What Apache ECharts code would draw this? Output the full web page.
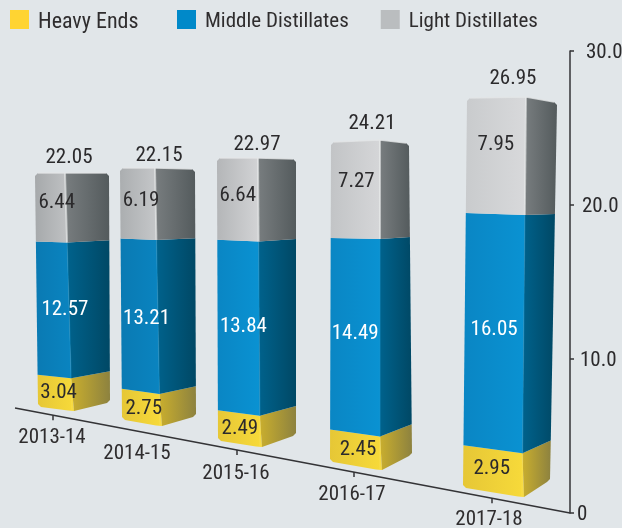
<!DOCTYPE html>
<html><head><meta charset="utf-8">
<style>html,body{margin:0;padding:0;background:#e1e6e9}#c{width:622px;height:528px}</style>
<script src="https://cdn.jsdelivr.net/npm/echarts@6/dist/echarts.min.js"></script>
</head><body><div id="c"></div>
<script>
// ---- data ----
const categories = ['2013-14','2014-15','2015-16','2016-17','2017-18'];
const heavyEnds = [3.04,2.75,2.49,2.45,2.95];
const middleDistillates = [12.57,13.21,13.84,14.49,16.05];
const lightDistillates = [6.44,6.19,6.64,7.27,7.95];
const totals = [22.05,22.15,22.97,24.21,26.95];
const axisTicks = [0,10,20,30];

// ---- perspective projection of the picture (per bar: left, edge, right vertical) ----
const FAMILY = 'Roboto, "Liberation Sans", sans-serif';
const FONT = 'condensed normal 21px ' + FAMILY;
const TEXT_DY = 2;
const AXIS_UNIT = 15.4;
const footDx = [[-19,15,53],[-49,-11,25],[-67,-25,11],[-69,-19,13],[-50,9,37]];
const footY = [[407,411,403],[420,426,417],[441,447,436],[462,470,456],[488,497,482]];
const unitPx = [[10.61,10.79,10.43],[11.38,11.65,11.2],[12.32,12.58,12.06],[13.22,13.63,12.93],[14.47,14.84,14.1]];
const leanPerUnit = [[-0.136,-0.317,-0.045],[-0.09,-0.226,-0.045],[-0.044,-0.087,0],[0.041,0,-0.124],[0.148,0.148,0.26]];
const nudgeHeavy = [[4,-2],[3,0],[1,-2],[3,-2],[-1,-4]];
const nudgeMiddle = [[12,-1],[7,1],[5,-2],[0,-4],[0,-4]];
const nudgeLight = [[6,-7],[3,-5],[0,-6],[1,-10],[0,-13]];
const nudgeTotal = [[4,-17],[4,-14],[-1,-15],[-8,-18],[-13,-20]];
const catLabelDx = [-5,-34,-49,-47,-24];
const catLabelY = [436,452,472,493,518];
const catTickDx = [-4,null,-48,-45,-21];
const lineY = x => 408 + 0.189 * (x - 15);

function hg(a, b) {
  return {type:'linear',x:0,y:0,x2:1,y2:0,colorStops:[{offset:0,color:a},{offset:1,color:b}]};
}
const grayFrontA = ['#a6a9ab','#abaeb0','#b4b6b8','#c2c4c6','#c9cbcd'];
const grayFrontB = ['#bfc1c3','#c5c7c9','#d2d3d5','#d5d6d8','#d8d9db'];
const styles = {
  heavy: {front:i=>hg('#e6c736','#f7da3a'), side:i=>hg('#c9ae2e','#8d823f'), edge:'#f9e25a', text:'#2b2a2c'},
  middle:{front:i=>hg(i<2?'#0a7ab3':'#0a86c4',i<2?'#0a84c0':'#0a92d2'), side:i=>hg('#00628c','#004865'), edge:'#1a93cc', text:'#ffffff'},
  light: {front:i=>hg(grayFrontA[i],grayFrontB[i]), side:i=>hg('#787d7f','#545b5d'), edge:'#eceeee', text:'#2b2a2c'}
};

function point(api, i, c, v) {
  const x0 = api.coord([i, 0]);
  const yv = api.coord([i, v]);
  const h = x0[1] - yv[1];
  return [x0[0] + footDx[i][c] + leanPerUnit[i][c] * v,
          footY[i][c] - h * unitPx[i][c] / AXIS_UNIT];
}
function segmentItem(kind, nudge, capTop, capBottom) {
  return function (params, api) {
    const i = api.value(0), a = api.value(1), b = api.value(2), val = api.value(3);
    const L0 = point(api,i,0,a), E0 = point(api,i,1,a), R0 = point(api,i,2,a);
    const L1 = point(api,i,0,b), E1 = point(api,i,1,b), R1 = point(api,i,2,b);
    const st = styles[kind], ch = 3;
    const front = capTop
      ? [[L0[0],L0[1]],[E0[0],E0[1]],[E1[0],E1[1]],[L1[0]+ch,L1[1]],[L1[0],L1[1]+ch]]
      : capBottom
      ? [[L0[0],L0[1]-ch],[L0[0]+ch,L0[1]],[E0[0]-4,E0[1]-0.5],[E0[0]+2,E0[1]],[E1[0],E1[1]],[L1[0],L1[1]]]
      : [L0,E0,E1,L1];
    const side = capTop
      ? [[E0[0],E0[1]],[R0[0],R0[1]],[R1[0],R1[1]+ch],[R1[0]-ch,R1[1]],[E1[0],E1[1]]]
      : capBottom
      ? [[E0[0]+2,E0[1]],[R0[0]-ch,R0[1]],[R0[0],R0[1]-ch],[R1[0],R1[1]],[E1[0],E1[1]]]
      : [E0,R0,R1,E1];
    const mx = (L0[0]+E0[0]+L1[0]+E1[0])/4, my = (L0[1]+E0[1]+L1[1]+E1[1])/4;
    const children = [
      {type:'polygon',shape:{points:front},style:{fill:st.front(i)}},
      {type:'polygon',shape:{points:side},style:{fill:st.side(i)}},
      {type:'line',shape:{x1:E0[0],y1:E0[1],x2:E1[0],y2:E1[1]},style:{stroke:st.edge,lineWidth:kind==='light'?2:1.5,opacity:kind==='light'?0.6:0.4}}
    ];
    if (capTop) {
      children.push({type:'polyline',shape:{points:[[L1[0]+ch,L1[1]],E1,[R1[0]-ch,R1[1]]]},style:{stroke:'#e4e6e7',lineWidth:1.5,fill:null,opacity:.8}});
    }
    children.push({type:'text',style:{text:val.toFixed(2),x:mx+nudge[i][0],y:my+nudge[i][1]+TEXT_DY,
      font:FONT,fill:st.text,align:'center',verticalAlign:'middle'}});
    return {type:'group',children};
  };
}
function stackData(values, starts) {
  return values.map((v,i)=>[i,starts[i],starts[i]+v,v]);
}
const zeros = categories.map(()=>0);
const blueStart = heavyEnds.slice();
const grayStart = heavyEnds.map((v,i)=>v+middleDistillates[i]);
const dims = {x:0,y:[1,2]};
const labelRich = pad => ({fontSize:21,fontStyle:'condensed',fontFamily:FAMILY,color:'#2b2a2c',padding:[4,0,0,pad]});
const legendRich = size => ({fontSize:size,color:'#2f2d2e',fontFamily:FAMILY,fontStyle:'condensed',padding:[5,0,0,4]});
const legendBase = (left, gap, size, names) => ({
  left, top:5, itemWidth:19, itemHeight:19, itemGap:gap, icon:'rect', selectedMode:false,
  data:names,
  formatter:n=>'{t|'+n+'}',
  textStyle:{fontSize:size,color:'#2f2d2e',fontFamily:FAMILY,fontStyle:'condensed',rich:{t:legendRich(size)}}
});

const option = {
  animation:false,
  backgroundColor:'#e1e6e9',
  textStyle:{fontFamily:FAMILY},
  legend:[
    legendBase(5,33,22,['Heavy Ends']),
    legendBase(172,32,21,['Middle Distillates','Light Distillates'])
  ],
  grid:{left:0,right:52,top:51,bottom:15,outerBoundsMode:'none'},
  xAxis:{type:'category',data:categories,show:false},
  yAxis:{
    type:'value',position:'right',min:0,max:30,interval:10,
    axisLine:{show:true,lineStyle:{color:'#333336',width:1.5}},
    axisTick:{show:true,length:4,lineStyle:{color:'#333336',width:1.5}},
    splitLine:{show:false},
    axisLabel:{
      margin:7,color:'#2b2a2c',fontSize:21,fontStyle:'condensed',fontFamily:FAMILY,
      formatter:v=>{
        const t = axisTicks.indexOf(v);
        return v===0 ? '{t0|0}' : '{t'+t+'|'+v.toFixed(1)+'}';
      },
      rich:{t0:labelRich(0),t1:labelRich(3),t2:labelRich(5),t3:labelRich(9)}
    }
  },
  graphic:[{type:'line',silent:true,z:5,shape:{x1:15,y1:lineY(15),x2:570,y2:lineY(570)},style:{stroke:'#333336',lineWidth:1.5}}],
  series:[
    {name:'Heavy Ends',type:'custom',encode:dims,itemStyle:{color:'#ffd432'},z:3,
     renderItem:segmentItem('heavy',nudgeHeavy,false,true),data:stackData(heavyEnds,zeros)},
    {name:'Middle Distillates',type:'custom',encode:dims,itemStyle:{color:'#0089c9'},z:3,
     renderItem:segmentItem('middle',nudgeMiddle,false,false),data:stackData(middleDistillates,blueStart)},
    {name:'Light Distillates',type:'custom',encode:dims,itemStyle:{color:'#babdbf'},z:3,
     renderItem:segmentItem('light',nudgeLight,true,false),data:stackData(lightDistillates,grayStart)},
    {name:'Total',type:'custom',encode:{x:0,y:1},z:4,
     renderItem:(p,api)=>{
       const i=api.value(0),t=api.value(1),e=point(api,i,1,t);
       return {type:'text',style:{text:t.toFixed(2),x:e[0]+nudgeTotal[i][0],y:e[1]+nudgeTotal[i][1]+TEXT_DY,font:FONT,fill:'#2b2a2c',align:'center',verticalAlign:'middle'}};
     },
     data:totals.map((t,i)=>[i,t])},
    {name:'Year',type:'custom',encode:{x:0,y:1},z:6,clip:false,
     renderItem:(p,api)=>{
       const i=api.value(0),c=api.coord([i,0]);
       const kids=[{type:'text',style:{text:categories[i],x:c[0]+catLabelDx[i],y:catLabelY[i]+TEXT_DY,font:FONT,fill:'#2f2d2e',align:'center',verticalAlign:'middle'}}];
       if(catTickDx[i]!==null){
         const tx=c[0]+catTickDx[i],ty=lineY(tx);
         kids.push({type:'line',shape:{x1:tx,y1:ty,x2:tx,y2:ty+5},style:{stroke:'#333336',lineWidth:1.5}});
       }
       return {type:'group',children:kids};
     },
     data:categories.map((c,i)=>[i,0])}
  ]
};
const chart = echarts.init(document.getElementById('c'),null,{renderer:'canvas'});
chart.setOption(option);
</script></body></html>
